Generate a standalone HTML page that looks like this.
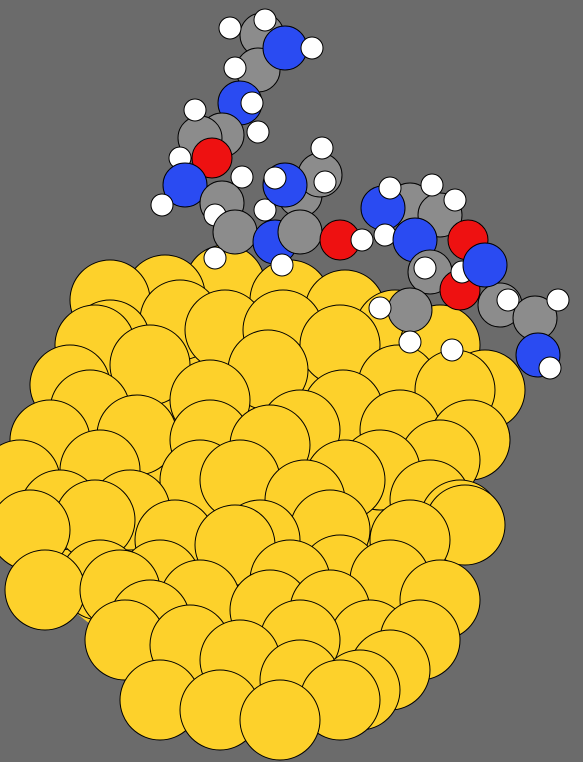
<!DOCTYPE html>
<html><head><meta charset="utf-8">
<style>
html,body{margin:0;padding:0;background:#6b6b6b;}
svg{display:block;}
</style></head>
<body>
<svg id="scene" width="583" height="762" viewBox="0 0 583 762" xmlns="http://www.w3.org/2000/svg">
<rect width="583" height="762" fill="#6b6b6b"/>
<polygon fill="#fdd12b" points="90,350 130,310 180,285 350,295 400,340 480,380 480,430 460,510 440,600 390,680 310,710 225,720 170,690 110,640 60,600 40,560 45,480 60,420"/>
<g id="gold"></g>
<g id="mol"></g>
</svg>
<script>
// Gold atom centers (x, y)
const goldX = [165,225,290,345,395,110,150,225,283,340,440,95,70,268,210,398,485,50,90,343,455,137,210,270,20,100,380,440,60,200,305,465,130,410,235,45,100,340,160,440,270,125,370,190,300,390,340,220,
 95,175,260,330,300,240,345,400,470,430,300,240,160,280,360,420,30,150,330,200,120,390,290,460,110,180];
const goldY = [295,285,300,310,330,340,365,330,330,345,345,345,385,370,400,385,390,440,410,410,390,435,440,445,480,470,470,460,510,480,500,525,510,540,545,590,580,575,580,600,610,640,640,645,680,670,700,710,
 520,540,540,530,430,480,480,430,440,500,640,660,700,720,690,640,530,620,610,600,590,580,580,520,300,320];
const goldR = 40;

// Molecule atoms: type and position
const atomType = ['C','C','N','H','H','H','H','N','H','C','C','H','H','H','O','N','H','H','C','H','C','H','N','H','H','C','C','H','H','N','C','O','H','H','C','N','H','H','C','H','O','N','H','C','O','H','H','C','C','N','H','H','H','C','H','N','H','H'];
const atomX = [262,258,285,265,230,312,235,240,252,222,200,195,258,180,212,185,162,242,222,215,235,215,275,282,265,300,320,322,325,285,300,340,362,275,410,383,390,385,440,432,468,415,455,430,460,425,462,410,500,485,380,410,452,535,558,538,508,550];
const atomY = [35,70,48,20,28,48,68,103,103,135,138,110,132,158,158,185,205,177,203,215,232,258,242,265,210,195,175,148,182,185,232,240,240,178,205,208,188,235,215,185,240,240,200,272,290,268,272,310,305,265,308,342,350,318,300,355,300,368];
const atomStyle = {C:{r:22,f:'#8c8c8c'},N:{r:22,f:'#2a4bf2'},O:{r:20,f:'#ee1111'},H:{r:11,f:'#ffffff'}};
const atomNames = {C:'carbon-atom',N:'nitrogen-atom',O:'oxygen-atom',H:'hydrogen-atom'};

const NS='http://www.w3.org/2000/svg';
const gold=document.getElementById('gold');
const idx=goldX.map((_,i)=>i).sort((a,b)=>goldY[a]-goldY[b]);
idx.forEach(i=>{
  const c=document.createElementNS(NS,'circle');
  c.setAttribute('cx',goldX[i]);c.setAttribute('cy',goldY[i]);c.setAttribute('r',goldR);
  c.setAttribute('fill','#fdd12b');c.setAttribute('stroke','#000');c.setAttribute('stroke-width','1');
  
  
  gold.appendChild(c);
});
const mol=document.getElementById('mol');
atomType.forEach((t,i)=>{
  const s=atomStyle[t];
  const c=document.createElementNS(NS,'circle');
  c.setAttribute('cx',atomX[i]);c.setAttribute('cy',atomY[i]);c.setAttribute('r',s.r);
  c.setAttribute('fill',s.f);c.setAttribute('stroke','#000');c.setAttribute('stroke-width','1');
  
  
  mol.appendChild(c);
});
</script>
</body></html>
